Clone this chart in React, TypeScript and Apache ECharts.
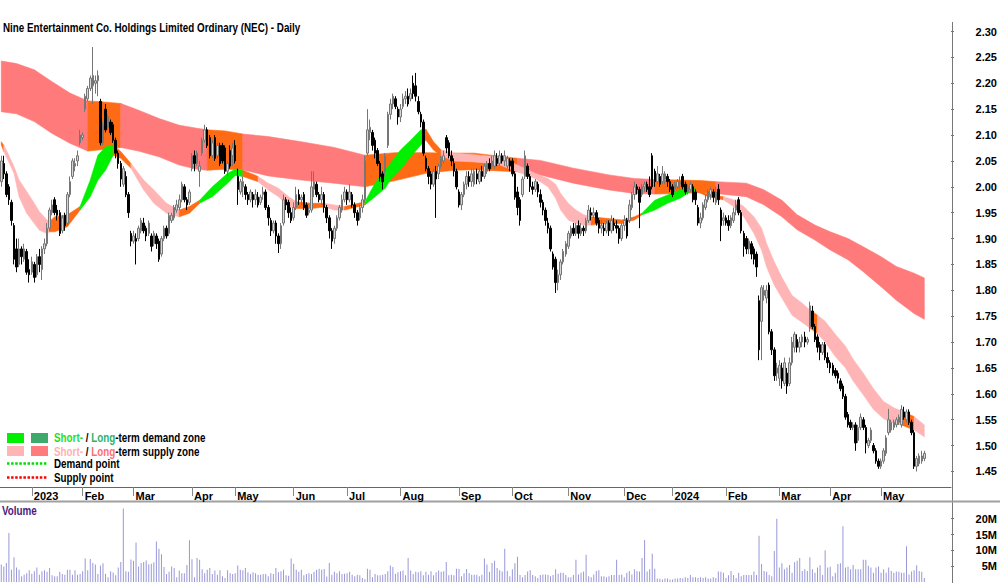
import React, { useEffect, useRef } from 'react';
import * as echarts from 'echarts';

const FONT = "'Liberation Sans Narrow', 'Arial Narrow', 'Liberation Sans', Arial, sans-serif";
const NARROW = 0.82; // horizontal squeeze emulating a narrow face for free-standing texts

// ---- calendar (trading days per month) ----
const monthLabels = ['', '2023', 'Feb', 'Mar', 'Apr', 'May', 'Jun', 'Jul', 'Aug', 'Sep', 'Oct', 'Nov', 'Dec', '2024', 'Feb', 'Mar', 'Apr', 'May', ''];
const monthDays = [12, 20, 20, 23, 17, 23, 21, 21, 23, 21, 22, 22, 19, 21, 21, 20, 20, 18, 10];

// ---- price candles [open, close, low, high] ----
const dec2022 = [[2.010,2.050,2.000,2.060],[2.045,2.025,2.015,2.060],[2.025,1.985,1.980,2.030],[2.000,1.975,1.965,2.005],[1.970,1.935,1.925,1.975],[1.925,1.860,1.850,1.930],[1.880,1.845,1.835,1.900],[1.850,1.880,1.845,1.900],[1.880,1.865,1.850,1.885],[1.860,1.880,1.855,1.890],[1.875,1.835,1.830,1.880],[1.840,1.830,1.815,1.860]];
const jan2023 = [[1.835,1.855,1.830,1.865],[1.850,1.825,1.815,1.855],[1.830,1.865,1.825,1.870],[1.865,1.850,1.835,1.880],[1.840,1.880,1.820,1.885],[1.880,1.890,1.870,1.900],[1.890,1.920,1.885,1.930],[1.920,1.955,1.915,1.960],[1.950,1.965,1.945,1.975],[1.975,1.950,1.945,1.980],[1.955,1.945,1.935,1.965],[1.950,1.910,1.905,1.955],[1.915,1.940,1.910,1.945],[1.945,1.925,1.915,1.950],[1.930,1.985,1.925,1.990],[1.985,2.010,1.980,2.020],[2.020,2.050,2.015,2.055],[2.040,2.045,2.030,2.055],[2.050,2.060,2.040,2.070],[2.085,2.100,2.080,2.110]];
const feb2023 = [[2.095,2.100,2.090,2.105],[2.150,2.175,2.145,2.180],[2.170,2.190,2.165,2.195],[2.190,2.210,2.185,2.215],[2.195,2.215,2.160,2.270],[2.200,2.205,2.180,2.215],[2.205,2.215,2.175,2.225],[2.165,2.085,2.080,2.170],[2.085,2.120,2.080,2.125],[2.150,2.110,2.105,2.160],[2.115,2.135,2.110,2.140],[2.125,2.105,2.100,2.130],[2.120,2.090,2.085,2.125],[2.090,2.065,2.055,2.095],[2.065,2.045,2.035,2.070],[2.045,2.015,2.000,2.050],[2.005,2.035,2.000,2.040],[2.020,1.985,1.980,2.030],[1.985,1.950,1.940,1.990],[1.910,1.895,1.885,1.915]];
const mar2023 = [[1.895,1.905,1.890,1.915],[1.900,1.895,1.850,1.910],[1.900,1.920,1.895,1.925],[1.915,1.935,1.910,1.940],[1.930,1.915,1.910,1.940],[1.920,1.905,1.895,1.925],[1.910,1.930,1.905,1.935],[1.905,1.885,1.875,1.910],[1.890,1.910,1.885,1.915],[1.905,1.890,1.880,1.910],[1.895,1.860,1.855,1.900],[1.870,1.900,1.865,1.905],[1.900,1.920,1.895,1.925],[1.920,1.905,1.900,1.925],[1.910,1.945,1.905,1.950],[1.935,1.945,1.930,1.950],[1.940,1.960,1.935,1.965],[1.955,1.965,1.950,1.975],[1.960,1.975,1.955,1.985],[1.975,2.005,1.970,2.010],[2.000,1.975,1.970,2.005],[1.975,1.965,1.955,1.980],[1.970,1.990,1.965,1.995]];
const apr2023 = [[2.035,2.060,2.030,2.065],[2.060,2.045,2.030,2.070],[2.045,2.065,2.040,2.070],[2.030,2.040,2.000,2.050],[2.065,2.090,2.060,2.095],[2.090,2.110,2.085,2.120],[2.110,2.080,2.075,2.115],[2.095,2.060,2.055,2.100],[2.060,2.085,2.055,2.090],[2.095,2.055,2.050,2.100],[2.060,2.080,2.055,2.085],[2.080,2.045,2.040,2.085],[2.080,2.050,2.045,2.085],[2.075,2.030,2.025,2.080],[2.030,2.045,2.020,2.050],[2.070,2.040,2.035,2.080],[2.060,2.075,2.040,2.085]];
const may2023 = [[2.080,2.050,2.045,2.090],[2.020,1.995,1.965,2.035],[1.990,2.010,1.985,2.015],[2.000,2.010,1.980,2.020],[2.000,1.985,1.975,2.005],[1.985,1.975,1.965,1.990],[1.975,1.990,1.970,1.995],[1.985,1.975,1.960,1.990],[1.975,1.985,1.965,1.995],[1.980,1.965,1.960,1.990],[1.970,1.980,1.965,1.985],[1.985,1.990,1.975,2.000],[1.990,1.960,1.955,1.995],[1.960,1.940,1.925,1.965],[1.935,1.915,1.905,1.940],[1.915,1.930,1.910,1.935],[1.930,1.905,1.890,1.935],[1.905,1.890,1.872,1.910],[1.890,1.925,1.880,1.930],[1.930,1.975,1.925,1.985],[1.975,1.965,1.955,1.980],[1.970,1.950,1.940,1.975],[1.950,1.935,1.930,1.960]];
const jun2023 = [[1.940,1.960,1.935,1.970],[1.960,1.985,1.955,2.000],[1.985,1.975,1.965,1.995],[1.975,1.980,1.965,1.985],[1.985,1.960,1.955,1.990],[1.965,1.945,1.940,1.970],[1.950,1.955,1.945,1.960],[1.955,2.000,1.950,2.030],[1.995,2.010,1.980,2.030],[2.005,1.985,1.980,2.010],[1.985,1.975,1.970,1.990],[1.975,1.985,1.965,2.000],[1.985,1.960,1.950,1.990],[1.960,1.940,1.930,1.965],[1.940,1.915,1.900,1.945],[1.915,1.895,1.880,1.920],[1.900,1.920,1.890,1.925],[1.920,1.940,1.915,1.945],[1.940,1.960,1.935,1.965],[1.955,1.975,1.950,1.985],[1.975,1.990,1.970,2.000]];
const jul2023 = [[1.990,1.975,1.965,1.995],[1.975,1.990,1.970,2.005],[1.985,1.965,1.960,1.990],[1.965,1.950,1.940,1.970],[1.950,1.935,1.925,1.955],[1.940,1.960,1.935,1.965],[1.960,1.975,1.950,1.985],[1.975,2.050,1.970,2.060],[2.065,2.110,2.060,2.150],[2.105,2.115,2.090,2.130],[2.105,2.080,2.070,2.110],[2.090,2.065,2.055,2.095],[2.070,2.045,2.040,2.075],[2.045,2.020,2.010,2.050],[2.025,2.010,1.995,2.030],[2.030,2.060,2.020,2.065],[2.080,2.140,2.075,2.145],[2.140,2.160,2.130,2.170],[2.160,2.175,2.150,2.180],[2.170,2.155,2.150,2.175],[2.150,2.135,2.120,2.155]];
const aug2023 = [[2.135,2.150,2.125,2.160],[2.155,2.170,2.150,2.180],[2.170,2.175,2.160,2.185],[2.175,2.160,2.155,2.190],[2.170,2.180,2.165,2.190],[2.200,2.180,2.170,2.215],[2.195,2.175,2.165,2.220],[2.165,2.145,2.140,2.175],[2.140,2.125,2.115,2.145],[2.125,2.065,2.060,2.130],[2.055,2.035,2.030,2.060],[2.035,2.020,2.005,2.040],[2.025,2.005,1.995,2.030],[2.005,2.030,2.000,2.035],[2.030,2.015,1.940,2.040],[2.025,2.040,2.015,2.045],[2.040,2.055,2.035,2.060],[2.050,2.060,2.045,2.070],[2.095,2.075,2.065,2.100],[2.085,2.060,2.055,2.090],[2.060,2.050,2.040,2.070],[2.045,2.030,2.020,2.055],[2.030,2.000,1.995,2.035]];
const sep2023 = [[1.990,1.965,1.960,1.995],[1.965,1.985,1.955,1.990],[1.985,2.005,1.980,2.010],[2.005,2.020,1.995,2.030],[2.020,2.010,2.000,2.030],[2.010,2.025,2.000,2.035],[2.005,2.030,2.000,2.035],[2.025,2.015,2.005,2.035],[2.010,2.030,2.005,2.035],[2.030,2.020,2.010,2.040],[2.020,2.040,2.015,2.045],[2.030,2.045,2.025,2.050],[2.045,2.035,2.030,2.055],[2.040,2.050,2.035,2.060],[2.040,2.060,2.035,2.070],[2.055,2.045,2.040,2.065],[2.045,2.060,2.040,2.070],[2.060,2.050,2.045,2.065],[2.050,2.060,2.040,2.070],[2.040,2.055,2.035,2.060],[2.050,2.040,2.030,2.055]];
const oct2023 = [[2.050,2.025,2.020,2.055],[2.025,1.980,1.975,2.030],[1.990,1.960,1.945,2.000],[1.975,1.935,1.925,1.980],[1.985,2.015,1.980,2.020],[2.020,2.060,2.015,2.070],[2.040,2.020,2.015,2.045],[2.020,2.000,1.990,2.025],[2.000,1.995,1.985,2.010],[1.995,2.010,1.990,2.015],[2.005,1.990,1.980,2.010],[1.985,1.970,1.960,1.995],[1.970,1.955,1.945,1.975],[1.955,1.935,1.925,1.960],[1.930,1.920,1.910,1.940],[1.920,1.880,1.875,1.925],[1.870,1.845,1.840,1.875],[1.860,1.815,1.795,1.865],[1.815,1.830,1.800,1.840],[1.830,1.855,1.820,1.860],[1.855,1.875,1.850,1.880],[1.870,1.890,1.865,1.895]];
const nov2023 = [[1.885,1.910,1.880,1.915],[1.905,1.920,1.900,1.925],[1.920,1.910,1.905,1.930],[1.910,1.925,1.905,1.930],[1.925,1.910,1.900,1.935],[1.910,1.920,1.905,1.930],[1.920,1.915,1.905,1.925],[1.915,1.935,1.910,1.940],[1.935,1.955,1.930,1.965],[1.950,1.945,1.935,1.960],[1.945,1.950,1.940,1.960],[1.950,1.930,1.925,1.955],[1.935,1.920,1.910,1.940],[1.920,1.925,1.910,1.935],[1.920,1.915,1.905,1.930],[1.915,1.930,1.910,1.935],[1.930,1.915,1.905,1.935],[1.915,1.935,1.910,1.945],[1.930,1.925,1.915,1.940],[1.925,1.920,1.910,1.935],[1.920,1.900,1.890,1.925],[1.900,1.925,1.895,1.930]];
const dec2023 = [[1.925,1.935,1.915,1.945],[1.935,1.905,1.900,1.940],[1.935,1.965,1.930,1.975],[1.960,1.985,1.955,1.990],[1.985,2.000,1.975,2.010],[2.000,1.995,1.985,2.005],[1.995,1.970,1.920,2.000],[1.985,2.000,1.980,2.005],[2.000,2.005,1.990,2.010],[2.005,1.995,1.990,2.010],[2.000,1.985,1.980,2.020],[2.060,2.000,1.995,2.065],[2.030,2.010,2.000,2.035],[2.010,2.025,2.005,2.040],[2.020,2.005,2.000,2.025],[2.010,2.025,2.005,2.040],[2.015,2.025,2.005,2.030],[2.020,2.010,2.000,2.025],[2.010,1.995,1.990,2.015]];
const jan2024 = [[2.000,1.985,1.980,2.005],[1.995,2.005,1.990,2.010],[2.000,2.010,1.995,2.015],[2.005,2.010,1.995,2.020],[2.020,2.000,1.995,2.025],[2.005,1.990,1.985,2.010],[1.990,2.000,1.985,2.005],[1.995,2.005,1.990,2.010],[2.000,1.975,1.970,2.005],[1.990,1.975,1.965,1.995],[1.960,1.930,1.925,1.965],[1.930,1.940,1.920,1.950],[1.940,1.965,1.935,1.970],[1.960,1.975,1.955,1.985],[1.975,1.990,1.970,1.995],[1.985,1.995,1.975,2.000],[1.990,1.980,1.970,1.995],[1.970,1.990,1.965,2.000],[1.995,1.975,1.965,2.005],[1.955,1.925,1.895,1.960],[1.935,1.940,1.925,1.950]];
const feb2024 = [[1.940,1.930,1.925,1.945],[1.935,1.925,1.915,1.945],[1.925,1.940,1.920,1.945],[1.935,1.950,1.930,1.960],[1.955,1.965,1.945,1.975],[1.975,1.950,1.945,1.980],[1.950,1.915,1.910,1.955],[1.910,1.885,1.865,1.915],[1.900,1.880,1.870,1.905],[1.880,1.895,1.870,1.900],[1.890,1.870,1.860,1.895],[1.880,1.860,1.850,1.885],[1.870,1.845,1.826,1.875],[1.780,1.685,1.665,1.790],[1.740,1.805,1.665,1.810],[1.790,1.800,1.780,1.810],[1.785,1.800,1.775,1.810],[1.810,1.720,1.715,1.815],[1.720,1.685,1.675,1.725],[1.685,1.635,1.625,1.690],[1.640,1.650,1.625,1.660]];
const mar2024 = [[1.630,1.655,1.615,1.665],[1.650,1.625,1.610,1.660],[1.620,1.660,1.615,1.670],[1.640,1.615,1.600,1.650],[1.620,1.660,1.615,1.670],[1.660,1.700,1.655,1.710],[1.690,1.715,1.680,1.720],[1.705,1.690,1.680,1.715],[1.690,1.700,1.680,1.710],[1.700,1.710,1.690,1.715],[1.710,1.700,1.690,1.720],[1.700,1.705,1.695,1.710],[1.730,1.770,1.720,1.778],[1.760,1.730,1.725,1.770],[1.730,1.705,1.700,1.735],[1.710,1.690,1.680,1.715],[1.695,1.680,1.665,1.700],[1.680,1.695,1.675,1.700],[1.695,1.670,1.665,1.700],[1.670,1.660,1.650,1.680]];
const apr2024 = [[1.660,1.650,1.640,1.665],[1.655,1.640,1.635,1.660],[1.645,1.635,1.630,1.650],[1.640,1.630,1.620,1.645],[1.625,1.610,1.605,1.630],[1.615,1.595,1.590,1.620],[1.595,1.555,1.550,1.600],[1.560,1.540,1.535,1.565],[1.545,1.535,1.530,1.550],[1.535,1.540,1.530,1.545],[1.540,1.505,1.490,1.545],[1.510,1.535,1.505,1.540],[1.535,1.555,1.530,1.562],[1.550,1.535,1.530,1.555],[1.535,1.505,1.485,1.540],[1.500,1.510,1.495,1.515],[1.510,1.530,1.505,1.535],[1.500,1.490,1.485,1.505],[1.490,1.470,1.465,1.495],[1.470,1.460,1.455,1.475]];
const may2024 = [[1.460,1.470,1.455,1.475],[1.470,1.490,1.465,1.495],[1.485,1.515,1.480,1.520],[1.525,1.550,1.520,1.571],[1.530,1.545,1.525,1.550],[1.535,1.545,1.530,1.550],[1.540,1.550,1.535,1.555],[1.545,1.555,1.540,1.560],[1.540,1.570,1.535,1.578],[1.565,1.555,1.550,1.575],[1.550,1.565,1.545,1.570],[1.565,1.545,1.540,1.570],[1.545,1.525,1.520,1.550],[1.525,1.460,1.455,1.530],[1.460,1.475,1.450,1.480],[1.465,1.480,1.460,1.485],[1.470,1.480,1.465,1.490],[1.475,1.485,1.470,1.490]];

// ---- volume (millions) ----
const volumeA = [5.5,4.9,6.0,15.5,3.9,7.8,4.6,3.9,1.8,2.3,2.8,3.7,2.6,3.4,4.6,2.3,3.4,3.7,3.2,4.4,2.1,1.8,1.8,3.2,2.5,2.3,3.9,3.9,2.3,3.7,2.3,2.5,3.4,7.4,3.7,7.3,6.0,5.5,2.5,5.2,5.9,2.6,1.5,3.4,3.0,2.1,4.6,6.3,23.2,3.4,3.2,7.1,6.7,12.5,4.9,6.0,6.3,6.8,5.5,5.8,6.2,12.8,10.5,8.8,4.7,2.5,3.2,4.9,4.4,1.5,3.6,2.8,2.8,5.4,13.2,7.2,1.5,7.6,7.0,4.0,2.8,3.9,4.4,2.5,3.6,2.3,3.7,1.8,1.3,3.7,2.8,2.5,2.8,5.2,3.9,3.7,4.4,3.1,2.5,3.1,2.8,2.3,2.3,2.5,2.5,1.8,2.8,2.5,4.4,3.1,3.4,3.9,2.1,2.0,7.4,5.8,3.9,3.2,3.9,2.1,2.5,2.8,2.5,3.2,3.9,4.2,3.9,4.1,1.7,6.0,2.3,3.2,2.8,3.4,2.5,2.6,2.8,3.2,2.3,1.8,2.3,2.1,1.3,0.9,4.2,3.9,1.5,2.5,2.1,2.1,2.3,2.5,3.4,5.2,4.7,2.5,3.1,3.4,3.6,2.1,7.6,3.6,2.5,3.2,3.1,3.4,2.1,3.2,2.3,3.4,2.1,3.1,3.6,3.2,3.4,6.3,2.1,2.3,2.1,4.2,4.1,1.8,2.8,4.1,2.8,2.3,2.3,2.3,1.8,2.3,7.4,5.5,3.2,6.0,6.7,4.4];
const volumeB = [3.7,3.3,10.5,3.5,1.8,4.0,5.9,8.0,2.2,1.5,2.2,3.3,3.7,2.2,1.8,1.3,2.2,2.4,2.4,2.2,1.8,2.2,4.0,2.6,2.9,2.9,2.2,1.5,1.5,2.2,7.0,2.4,2.9,3.3,8.6,1.8,1.5,2.4,3.5,3.7,1.8,1.8,1.5,1.8,2.2,2.2,7.0,2.2,2.4,1.5,2.9,3.5,2.4,4.0,3.5,3.3,7.6,13.3,3.3,4.0,8.9,4.2,1.1,1.0,0.8,1.1,1.1,0.8,0.8,1.1,1.1,1.3,1.1,1.5,1.3,2.2,1.5,1.5,1.3,1.5,1.3,1.5,1.1,1.1,1.5,1.3,3.3,3.2,2.9,1.3,2.1,3.5,2.2,1.3,2.9,1.8,2.2,2.2,2.2,2.2,3.3,2.2,14.6,5.7,3.5,3.2,2.2,1.8,9.8,20.0,4.6,5.9,4.0,4.6,5.4,2.9,6.2,6.7,7.6,3.5,4.0,3.5,7.8,4.0,2.9,4.6,5.3,2.2,10.0,4.6,4.8,1.8,2.9,5.7,5.9,17.6,4.6,4.8,4.0,5.4,4.0,4.0,4.0,7.0,7.0,5.1,4.6,2.9,4.6,4.9,2.9,4.0,2.9,4.6,3.5,2.9,3.3,3.2,2.9,2.9,11.3,2.4,3.3,3.7,5.3,3.5,3.2,1.3];

// ---- long-term zone (keypoint day index, top, bottom; zone per segment) ----
const longIdx = [0,6,13,20,27,34,40,47,54,62,70,77,81,88,95,105,118,131,143,155,167,178,186,203,212,225,239,249,257,267,275,281,293,300,307,313,320,326,333,339,346,352,359,363];
const longTop = [2.243,2.238,2.226,2.203,2.181,2.166,2.164,2.161,2.148,2.132,2.119,2.113,2.110,2.108,2.102,2.097,2.087,2.076,2.061,2.066,2.066,2.065,2.065,2.055,2.051,2.036,2.023,2.016,2.014,2.013,2.012,2.010,2.007,1.994,1.974,1.946,1.926,1.913,1.900,1.884,1.865,1.846,1.833,1.824];
const longBot = [2.145,2.141,2.126,2.103,2.084,2.069,2.072,2.076,2.069,2.058,2.042,2.034,2.032,2.034,2.033,2.021,2.013,2.007,2.000,2.012,2.026,2.032,2.033,2.029,2.023,2.007,1.994,1.987,1.986,1.987,1.989,1.987,1.981,1.965,1.942,1.917,1.897,1.878,1.859,1.836,1.807,1.781,1.755,1.744];
const longZone = ['S','S','S','S','S','N','N','S','S','S','S','S','N','N','S','S','S','S','N','N','N','N','N','S','S','S','S','S','N','N','N','S','S','S','S','S','S','S','S','S','S','S','S'];

// ---- short-term zone ----
const shortIdx = [0,1,2,5,7,10,13,15,18,19,21,26,31,35,38,41,44,47,51,56,60,65,70,74,78,83,89,92,95,101,105,109,113,116,122,127,131,135,143,147,151,153,157,161,165,167,170,173,178,186,195,203,210,215,218,220,223,226,229,232,238,244,249,252,257,262,267,271,273,278,284,288,292,296,299,301,304,307,311,315,318,321,324,328,332,335,339,343,347,351,354,359,363];
const shortTop = [2.087,2.080,2.071,2.039,2.013,1.991,1.968,1.952,1.936,1.933,1.942,1.946,1.962,2.013,2.061,2.077,2.081,2.068,2.045,2.013,1.994,1.968,1.955,1.962,1.974,2.000,2.026,2.034,2.032,2.020,2.007,1.997,1.981,1.971,1.968,1.968,1.965,1.962,1.971,2.007,2.033,2.045,2.071,2.090,2.110,2.111,2.087,2.071,2.065,2.062,2.058,2.042,2.026,2.016,2.005,1.987,1.968,1.955,1.946,1.942,1.939,1.936,1.942,1.949,1.974,1.984,1.994,1.997,1.996,1.985,1.981,1.975,1.962,1.942,1.920,1.890,1.855,1.825,1.790,1.775,1.762,1.752,1.740,1.715,1.692,1.667,1.640,1.610,1.585,1.573,1.567,1.556,1.540];
const shortBot = [2.081,2.068,2.058,2.026,1.981,1.949,1.929,1.916,1.910,1.913,1.913,1.923,1.955,1.981,2.013,2.032,2.061,2.055,2.036,1.994,1.968,1.949,1.942,1.949,1.968,1.981,2.007,2.022,2.020,2.010,1.994,1.981,1.962,1.958,1.958,1.961,1.955,1.955,1.965,1.981,1.997,2.013,2.033,2.058,2.081,2.090,2.071,2.060,2.050,2.048,2.044,2.029,2.016,2.000,1.978,1.955,1.936,1.929,1.926,1.926,1.929,1.929,1.936,1.946,1.955,1.968,1.978,1.991,1.992,1.981,1.975,1.962,1.942,1.910,1.878,1.845,1.810,1.785,1.752,1.738,1.727,1.716,1.700,1.672,1.650,1.625,1.598,1.570,1.552,1.543,1.540,1.530,1.517];
const shortZone = ['N','P','P','P','P','P','P','P','P','N','N','N','D','D','D','D','N','N','P','P','P','P','N','N','D','D','D','D','N','P','P','P','P','N','N','P','P','N','D','D','D','D','D','D','D','N','N','P','P','P','P','P','P','P','P','P','P','P','P','N','N','N','N','D','D','D','D','D','N','N','P','P','P','P','P','P','P','P','P','P','N','P','P','P','P','P','P','P','P','P','N','P'];

const priceTicks = [1.45,1.5,1.55,1.6,1.65,1.7,1.75,1.8,1.85,1.9,1.95,2.0,2.05,2.1,2.15,2.2,2.25,2.3];
const volumeTicks = [5, 10, 15, 20];

const COLORS = {
  longSupply: '#FF7A7A',
  shortSupply: '#FFB5B5',
  shortDemand: '#00F000',
  longDemand: '#3DAA6B',
  neutral: '#FF6A14',
};

function buildOption() {
  const categories: string[] = [];
  monthLabels.forEach((lab, m) => {
    for (let d = 0; d < monthDays[m]; d++) categories.push(`${categories.length}|${d === 0 ? lab : ''}`);
  });
  const candles = [...dec2022, ...jan2023, ...feb2023, ...mar2023, ...apr2023, ...may2023, ...jun2023, ...jul2023, ...aug2023, ...sep2023, ...oct2023, ...nov2023, ...dec2023, ...jan2024, ...feb2024, ...mar2024, ...apr2024, ...may2024];
  const volume = [...volumeA, ...volumeB];
  const isLabel = (_i: number, v: string) => String(v).split('|')[1] !== '';

  const band = (name: string, idx: number[], top: number[], bot: number[], zone: string[], colors: Record<string, string>) => {
    const runs: { from: number; to: number; z: string }[] = [];
    let s = 0;
    for (let k = 1; k <= zone.length; k++) {
      if (k === zone.length || zone[k] !== zone[s]) { runs.push({ from: s, to: k, z: zone[s] }); s = k; }
    }
    return {
      type: 'custom', name, xAxisIndex: 0, yAxisIndex: 0, silent: true,
      data: runs.map((r) => [idx[r.from], top[r.from]]),
      renderItem: (params: any, api: any) => {
        const r = runs[params.dataIndex];
        const pts: number[][] = [];
        for (let k = r.from; k <= r.to; k++) pts.push(api.coord([idx[k], top[k]]));
        for (let k = r.to; k >= r.from; k--) pts.push(api.coord([idx[k], bot[k]]));
        const c = colors[r.z];
        return { type: 'polygon', shape: { points: pts }, style: { fill: c, stroke: c, lineWidth: 0.6 } };
      },
    };
  };

  const txt = { fontFamily: FONT, fontWeight: 'bold' as const, fontSize: 12 };
  const axTxt = { fontFamily: FONT, fontWeight: 'bold' as const, fontSize: 11 };
  const legendText = (x: number, y: number, text: string, rich: any) => ({
    type: 'text', x, y, scaleX: NARROW, silent: true,
    style: { text, ...txt, fill: '#000', verticalAlign: 'middle', rich },
  });
  const r = (fill: string) => ({ ...txt, fill });

  return {
    animation: false,
    textStyle: { fontFamily: FONT },
    grid: [
      { left: 0, right: 48, top: 16, height: 471 },
      { left: 0, right: 48, top: 506, height: 76 },
    ],
    xAxis: [
      {
        type: 'category', gridIndex: 0, data: categories, boundaryGap: true,
        axisLine: { show: true, lineStyle: { color: '#666', width: 1 } },
        axisTick: { show: true, interval: isLabel, alignWithLabel: true, length: 9, lineStyle: { color: '#888' } },
        axisLabel: { show: true, interval: isLabel, formatter: (v: string) => String(v).split('|')[1], align: 'left', padding: [0, 0, 0, 2], margin: 3, color: '#000', ...axTxt },
        splitLine: { show: false },
      },
      {
        type: 'category', gridIndex: 1, data: categories, boundaryGap: true,
        axisLine: { show: false }, axisTick: { show: false }, axisLabel: { show: false }, splitLine: { show: false },
      },
    ],
    yAxis: [
      {
        type: 'value', gridIndex: 0, position: 'right', min: 1.42, max: 2.33, scale: true,
        axisLine: { show: false },
        axisTick: { show: true, customValues: priceTicks, length: 3, lineStyle: { color: '#777' } },
        axisLabel: { show: true, customValues: priceTicks, formatter: (v: number) => v.toFixed(2), align: 'right', margin: 46, color: '#000', ...axTxt },
        splitLine: { show: false },
      },
      {
        type: 'value', gridIndex: 1, position: 'right', min: 0, max: 24,
        axisLine: { show: false },
        axisTick: { show: true, customValues: volumeTicks, length: 3, lineStyle: { color: '#777' } },
        axisLabel: { show: true, customValues: volumeTicks, formatter: (v: number) => `${v}M`, align: 'right', margin: 46, color: '#000', ...axTxt },
        splitLine: { show: false },
      },
    ],
    series: [
      band('Long-term zone', longIdx, longTop, longBot, longZone, { S: COLORS.longSupply, N: COLORS.neutral, D: COLORS.longDemand }),
      band('Short-term zone', shortIdx, shortTop, shortBot, shortZone, { P: COLORS.shortSupply, N: COLORS.neutral, D: COLORS.shortDemand }),
      {
        type: 'candlestick', name: 'NEC', xAxisIndex: 0, yAxisIndex: 0, data: candles, barWidth: 2,
        itemStyle: { color: '#D6D6D6', borderColor: '#767676', color0: '#000000', borderColor0: '#000000', borderWidth: 1 },
      },
      {
        type: 'bar', name: 'Volume', xAxisIndex: 1, yAxisIndex: 1, data: volume, barWidth: 1,
        itemStyle: { color: '#9898D8' },
      },
    ],
    graphic: [
      { type: 'text', x: 3, y: 28, scaleX: NARROW, silent: true, style: { text: 'Nine Entertainment Co. Holdings Limited Ordinary (NEC) - Daily', ...txt, fill: '#000', verticalAlign: 'middle' } },
      { type: 'line', silent: true, shape: { x1: 952.5, y1: 22, x2: 952.5, y2: 583 }, style: { stroke: '#777', lineWidth: 1 } },
      { type: 'line', silent: true, shape: { x1: 0, y1: 501.5, x2: 1000, y2: 501.5 }, style: { stroke: '#A0A0A0', lineWidth: 2 } },
      { type: 'text', x: 2, y: 511, scaleX: NARROW, silent: true, style: { text: 'Volume', ...txt, fill: '#4B1A80', verticalAlign: 'middle' } },
      { type: 'rect', silent: true, shape: { x: 7, y: 433, width: 17, height: 10 }, style: { fill: COLORS.shortDemand } },
      { type: 'rect', silent: true, shape: { x: 31, y: 433, width: 17, height: 10 }, style: { fill: COLORS.longDemand } },
      legendText(54, 438, '{a|Short-}{k| / }{b|Long}{k|-term demand zone}', { a: r('#1EE01E'), b: r('#2DB36B'), k: r('#000') }),
      { type: 'rect', silent: true, shape: { x: 7, y: 446, width: 17, height: 10 }, style: { fill: COLORS.shortSupply } },
      { type: 'rect', silent: true, shape: { x: 31, y: 446, width: 17, height: 10 }, style: { fill: COLORS.longSupply } },
      legendText(54, 451.5, '{a|Short-}{k| / }{b|Long}{k|-term supply zone}', { a: r('#FFB0B0'), b: r('#FF6F6F'), k: r('#000') }),
      { type: 'line', silent: true, shape: { x1: 7, y1: 463.5, x2: 48, y2: 463.5 }, style: { stroke: '#00DD00', lineWidth: 2.5, lineDash: [2.5, 1.6] } },
      legendText(54, 464, 'Demand point', {}),
      { type: 'line', silent: true, shape: { x1: 7, y1: 477.5, x2: 48, y2: 477.5 }, style: { stroke: '#FF0000', lineWidth: 2.5, lineDash: [2.5, 1.6] } },
      legendText(54, 478, 'Supply point', {}),
    ],
  };
}

export default function App() {
  const ref = useRef<HTMLDivElement>(null);
  useEffect(() => {
    if (!ref.current) return;
    const chart = echarts.init(ref.current, null, { renderer: 'svg' });
    chart.setOption(buildOption() as any);
    return () => chart.dispose();
  }, []);
  return <div ref={ref} style={{ position: 'absolute', left: 0, top: 0, width: 1000, height: 583, background: '#fff' }} />;
}
